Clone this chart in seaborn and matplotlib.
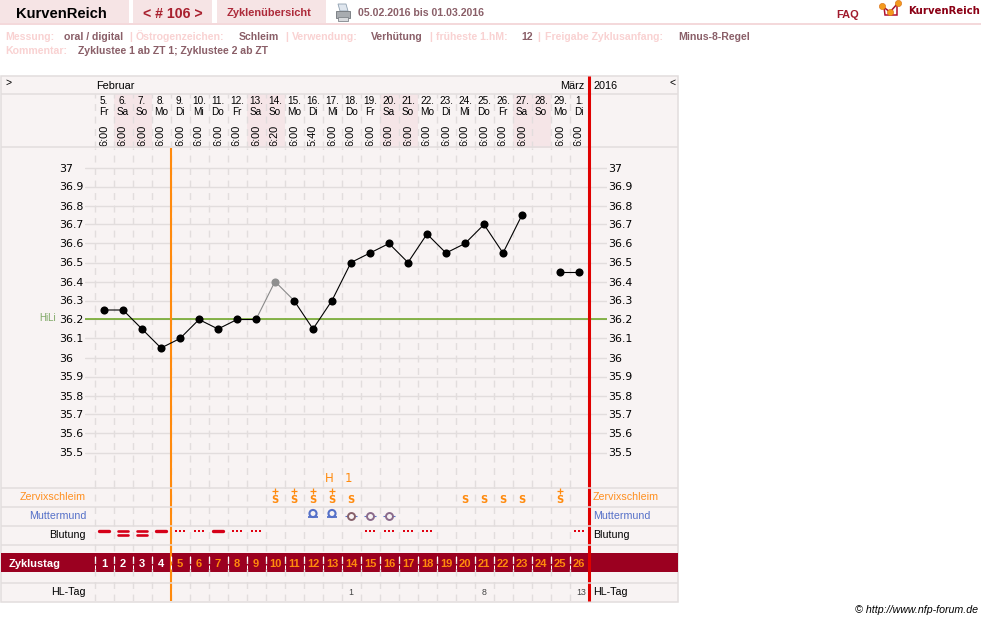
import numpy as np
import pandas as pd
import matplotlib
matplotlib.use("Agg")
import matplotlib.pyplot as plt
from matplotlib.patches import Rectangle, Polygon
from matplotlib.ticker import FixedLocator, NullLocator
import seaborn as sns

# chart values
day_numbers = [5, 6, 7, 8, 9, 10, 11, 12, 13, 14, 15, 16, 17, 18, 19, 20, 21, 22, 23, 24, 25, 26, 27, 28, 29, 1]
weekdays = ["Fr", "Sa", "So", "Mo", "Di", "Mi", "Do", "Fr", "Sa", "So", "Mo", "Di", "Mi",
            "Do", "Fr", "Sa", "So", "Mo", "Di", "Mi", "Do", "Fr", "Sa", "So", "Mo", "Di"]
times = ["6:00"] * 9 + ["6:20", "6:00", "5:40"] + ["6:00"] * 11 + [""] + ["6:00"] * 2
temps = [36.25, 36.25, 36.15, 36.05, 36.1, 36.2, 36.15, 36.2, 36.2, 36.4, 36.3, 36.15, 36.3,
         36.5, 36.55, 36.6, 36.5, 36.65, 36.55, 36.6, 36.7, 36.55, 36.75, np.nan, 36.45, 36.45]
# excluded measurement is grey, the others black
black_runs = [(1, 9), (11, 23), (25, 26)]
grey_runs = [(9, 11)]
grey_days = [10]
temp_ticks = [37, 36.9, 36.8, 36.7, 36.6, 36.5, 36.4, 36.3, 36.2, 36.1, 36, 35.9, 35.8, 35.7, 35.6, 35.5]
hili = 36.2
cycle_days = list(range(1, 27))
mucus_days = [10, 11, 12, 13, 14, 20, 21, 22, 23, 25]
mucus_plus = [10, 11, 12, 13, 25]
peak_marks = {13: "H", 14: "1"}
cervix_big = [12, 13]
cervix_small = [14, 15, 16]
cervix_small_colors = ["#86606a", "#8a6a8a", "#8a6a8a"]
bleed_strong = [2, 3]
bleed_medium = [1, 4, 7]
bleed_light = [5, 6, 8, 9, 15, 16, 17, 18, 26]
hl_days = {14: "1", 21: "8", 26: "13"}
info_top = [("Messung:", 5, 0), ("oral / digital", 64, 1), ("|", 129, 2), ("Östrogenzeichen:", 136, 0),
            ("Schleim", 239, 1), ("|", 285, 2), ("Verwendung:", 292, 0), ("Verhütung", 371, 1),
            ("|", 429, 2), ("früheste 1.hM:", 436, 0), ("12", 521, 1), ("|", 537, 2),
            ("Freigabe Zyklusanfang:", 545, 0), ("Minus-8-Regel", 678, 1)]

W, H = 981, 621
BG = "#f8f3f3"
GRID = "#e2dddd"
WEEKEND = "#f5e5e7"
ORANGE = "#ff8a0d"
RED = "#e00000"
DARKRED = "#9b0020"
BLUE = "#5570c8"
INFO_LIGHT = "#f9d2d2"
INFO_DARK = "#8a5f68"
SANS = "Liberation Sans"

sns.set_theme(style="white")
plt.rcParams["font.family"] = [SANS, "DejaVu Sans"]
plt.rcParams["axes.unicode_minus"] = False


def px_axes(fig, x0, y0, x1, y1):
    return fig.add_axes([x0 / W, 1 - y1 / H, (x1 - x0) / W, (y1 - y0) / H])


fig = plt.figure(figsize=(W / 100, H / 100), dpi=100, facecolor="white")

# page furniture in pixel coordinates
bg = px_axes(fig, 0, 0, W, H)
bg.set_xlim(0, W)
bg.set_ylim(H, 0)
bg.axis("off")

for x0, x1 in [(0, 129), (133, 212), (217, 326)]:
    bg.add_patch(Rectangle((x0, 0), x1 - x0, 23, fc="#f6e4e5", ec="none"))
bg.add_patch(Rectangle((0, 23), W, 2, fc="#f4d9db", ec="none"))
bg.text(16, 17.5, "KurvenReich", fontsize=10.6, fontweight="bold", color="black")
bg.text(143, 17.5, "< # 106 >", fontsize=10.2, fontweight="bold", color="#a8202e")
bg.text(227, 16.5, "Zyklenübersicht", fontsize=7.9, fontweight="bold", color="#ad2a3a")
bg.text(358, 16, "05.02.2016 bis 01.03.2016", fontsize=7.6, fontweight="bold", color="#8a5f68")
bg.text(836, 18, "FAQ", fontsize=7.9, fontweight="bold", color="#a01a2c")
bg.text(908, 14, "KurvenReich", fontsize=7.3, fontweight="bold", color="#8b0015", family="DejaVu Sans")

# printer icon
bg.add_patch(Polygon([(338, 4), (346, 4), (348, 11), (340, 11)], fc="#dfe6ee", ec="#8fa0b0", lw=0.6))
bg.add_patch(Rectangle((336, 11), 14, 7, fc="#a8acb0", ec="#70757a", lw=0.6))
bg.add_patch(Rectangle((338, 17), 10, 4, fc="#d8dadd", ec="#80858a", lw=0.6))

# logo
bg.add_patch(Polygon([(884, 7), (885, 15), (897, 15), (897, 5)], closed=False, fc="none", ec="#b01030", lw=1.1))
bg.plot([882, 890, 898], [6, 12, 3], color="#a01030", lw=1.1)
bg.plot([882, 890, 898], [6, 12, 3], ls="none", marker="o", ms=4.5, mfc="#f39a1e", mec="#d86a10", mew=0.4)

color_map = {0: INFO_LIGHT, 1: INFO_DARK, 2: INFO_LIGHT}
for label, x, kind in info_top:
    bg.text(x, 40, label, fontsize=7.6, fontweight="bold", color=color_map[kind])
bg.text(5, 54.5, "Kommentar:", fontsize=7.6, fontweight="bold", color=INFO_LIGHT)
bg.text(78, 54.5, "Zyklustee 1 ab ZT 1; Zyklustee 2 ab ZT", fontsize=7.6, fontweight="bold", color=INFO_DARK)
bg.text(978, 613, "© http://www.nfp-forum.de", fontsize=7.7, style="italic", color="black", ha="right")

# table body
bg.add_patch(Rectangle((0.5, 75.5), 677.5, 526, fc=BG, ec=GRID, lw=1.1, zorder=0))
bg.add_patch(Rectangle((0.5, 553), 677.5, 19, fc=DARKRED, ec="none", zorder=1))
bg.text(5, 86, ">", fontsize=7.5, color="black")
bg.text(96, 89, "Februar", fontsize=7.8, color="black")
bg.text(584.5, 89, "März", fontsize=7.8, color="black", ha="right")
bg.text(593, 89, "2016", fontsize=7.8, color="black")
bg.text(669, 86, "<", fontsize=7.5, color="black")
bg.text(56, 321, "HiLi", fontsize=7.0, color="#7fa866", ha="right")
bg.text(9, 567, "Zyklustag", fontsize=7.9, fontweight="bold", color="white")
for label, y, color in [("Zervixschleim", 500, "#ff8f1f"), ("Muttermund", 519, BLUE),
                        ("Blutung", 538, "black"), ("HL-Tag", 595, "black")]:
    bg.text(86, y, label, fontsize=7.7, color=color, ha="right")
    bg.text(593, y, label, fontsize=7.7, color=color)

# same x scale on all three panels: day n sits in the middle of its 19 px column
xlim = ((85 - 104) / 19 + 1, (607 - 104) / 19 + 1)
table_left = (0.5 - 104) / 19 + 1
table_right = (678 - 104) / 19 + 1
ax = px_axes(fig, 85, 148, 607, 487)
ax_top = px_axes(fig, 85, 94, 607, 148)
ax_low = px_axes(fig, 85, 487, 607, 601)
edges = [d + 0.5 for d in range(0, 27)]
for a in (ax, ax_top, ax_low):
    a.set_xlim(xlim)
    a.patch.set_alpha(0)
    sns.despine(ax=a, left=True, bottom=True)
    a.xaxis.set_major_locator(NullLocator())
    a.xaxis.set_minor_locator(FixedLocator(edges))
    a.tick_params(axis="x", which="both", length=0)
    a.grid(False)
    a.grid(axis="x", which="minor", color=GRID, lw=1.0, ls=(0, (5, 4)))
    a.set_axisbelow(True)

# temperature panel
ax.set_ylim(37 - (487 - 167.5) / 190, 37 + (167.5 - 148) / 190)
ax.set_yticks(temp_ticks, [f"{t:g}" for t in temp_ticks])
ax.grid(axis="y", which="major", color=GRID, lw=1.0)
ax.tick_params(axis="y", length=0, pad=18.6, labelsize=7.9, labelcolor="black", labelfontfamily="DejaVu Sans")
for lab in ax.get_yticklabels():
    lab.set_ha("left")
right = ax.twinx()
right.set_ylim(ax.get_ylim())
right.set_yticks(temp_ticks, [f"{t:g}" for t in temp_ticks])
right.grid(False)
right.tick_params(axis="y", length=0, pad=1.0, labelsize=7.9, labelcolor="black", labelfontfamily="DejaVu Sans")
sns.despine(ax=right, left=True, right=True, bottom=True)

ax.axhline(hili, color="#68a31c", lw=1.1, zorder=2)

df = pd.DataFrame({"day": cycle_days, "temp": temps})
for runs, color in [(black_runs, "black"), (grey_runs, "#8a8a8a")]:
    for start, end in runs:
        seg = df[(df["day"] >= start) & (df["day"] <= end)]
        sns.lineplot(data=seg, x="day", y="temp", color=color, lw=0.8, estimator=None, sort=False,
                     legend=False, ax=ax, zorder=5)
solid = df[~df["day"].isin(grey_days)].dropna()
grey = df[df["day"].isin(grey_days)]
sns.scatterplot(data=solid, x="day", y="temp", color="black", s=34, linewidth=0, legend=False, ax=ax, zorder=6)
sns.scatterplot(data=grey, x="day", y="temp", color="#8f8f8f", s=34, linewidth=0, legend=False, ax=ax, zorder=6)
ax.set_xlabel("")
ax.set_ylabel("")

# date header panel
ax_top.set_ylim(148, 94)
ax_top.set_yticks([])
for d, num, wd, tm in zip(cycle_days, day_numbers, weekdays, times):
    if wd in ("Sa", "So"):
        ax_top.axvspan(d - 0.5, d + 0.5, color=WEEKEND, lw=0, zorder=0)
    ax_top.text(d, 104.5, f"{num}.", fontsize=7.2, color="black", ha="center", clip_on=False)
    ax_top.text(d, 115, wd, fontsize=7.2, color="black", ha="center", clip_on=False)
    if tm:
        ax_top.text(d, 135, tm, fontsize=7.9, color="black", rotation=90, ha="center", va="center")

# lower rows, y in pixels
ax_low.set_ylim(601, 487)
ax_low.set_yticks([])
for d in peak_marks:
    ax_low.text(d - 0.16, 481.5, peak_marks[d], fontsize=8.4, color=ORANGE, ha="center", clip_on=False,
                family="DejaVu Sans")
for d in mucus_days:
    ax_low.text(d, 503, "S", fontsize=7.2, color=ORANGE, fontweight="bold", ha="center", family="DejaVu Sans")
plus = pd.DataFrame({"day": mucus_plus, "y": [490.8] * len(mucus_plus)})
sns.scatterplot(data=plus, x="day", y="y", s=18, marker="+", color=ORANGE, linewidth=0.9,
                legend=False, ax=ax_low, zorder=4)

big = pd.DataFrame({"day": cervix_big, "y": [513.5] * len(cervix_big)})
sns.scatterplot(data=big, x="day", y="y", s=26, facecolor="none", edgecolor=BLUE, linewidth=1.5,
                legend=False, ax=ax_low, zorder=4)
sns.scatterplot(data=big.assign(y=517), x="day", y="y", s=55, marker="_", color=BLUE, linewidth=1.3,
                legend=False, ax=ax_low, zorder=4)
small = pd.DataFrame({"day": cervix_small, "y": [515.5] * len(cervix_small)})
sns.scatterplot(data=small, x="day", y="y", s=70, marker="_", color=BLUE, linewidth=0.8,
                legend=False, ax=ax_low, zorder=3)
for d, c in zip(cervix_small, cervix_small_colors):
    ax_low.plot([d], [515.5], marker="o", ms=5, mfc=BG, mec=c, mew=1.4, zorder=4)

# bleeding: dashes and dots per day
for d in bleed_medium:
    ax_low.hlines(530.5, d - 0.24, d + 0.24, color="#d50018", lw=2.4, capstyle="round", zorder=4)
for d in bleed_strong:
    ax_low.hlines([530.7, 535], d - 0.24, d + 0.24, color="#d50018", lw=1.9, capstyle="round", zorder=4)
light = pd.DataFrame({"day": bleed_light})
for off in (-0.2, 0.0, 0.2):
    sns.scatterplot(x=light["day"] + off, y=[530.5] * len(light), s=4, marker="s", color="#e00010",
                    linewidth=0, legend=False, ax=ax_low, zorder=4)

# Zyklustag row
ax_low.vlines(edges[:-1], 556, 569, color="white", lw=0.72, ls=(0, (5, 4)), zorder=3)
for d in cycle_days:
    ax_low.text(d, 567, str(d), fontsize=8, fontweight="bold", color="white" if d <= 4 else ORANGE,
                ha="center", zorder=5)
for d, txt in hl_days.items():
    ax_low.text(d + (0.12 if len(txt) > 1 else 0), 595, txt, fontsize=6.3, color="#444444", ha="center")
ax_low.set_xlabel("")
ax_low.set_ylabel("")

# cycle start and cycle end lines, row lines on top
ax.axvline(4.5, color=ORANGE, lw=1.5, zorder=4)
ax_low.axvline(4.5, color=ORANGE, lw=1.5, zorder=2)
ax_low.vlines(26.5, 601, 76, color=RED, lw=2.2, zorder=2, clip_on=False)
ax_low.hlines([487.5, 506.5, 525.5, 544.5, 582.5], table_left, table_right, color=GRID, lw=1.1, zorder=3, clip_on=False)
ax_low.set_xlim(xlim)
ax_top.hlines([94, 147.5], table_left, table_right, color=GRID, lw=1.1, zorder=3, clip_on=False)
ax_top.set_xlim(xlim)

fig.savefig("out.png", dpi=100, facecolor="white")
